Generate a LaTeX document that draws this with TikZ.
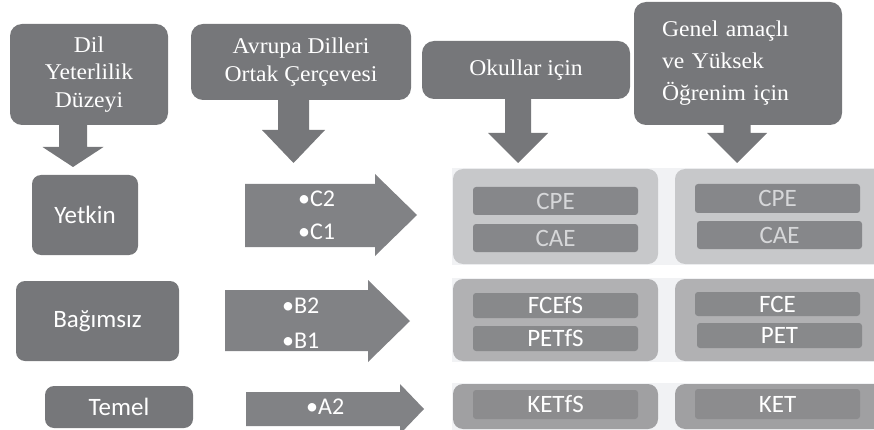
\documentclass[tikz,border=0pt]{standalone}
\usepackage{fontspec}
\setmainfont{Liberation Serif}
\newfontfamily\serifw[FakeStretch=1.05]{Liberation Serif}
\newfontfamily\sansw{Carlito}
\definecolor{boxgray}{HTML}{76777A}
\definecolor{arrgray}{HTML}{818285}
\definecolor{stripbg}{HTML}{F1F2F4}
\definecolor{panelA}{HTML}{C7C8CA}
\definecolor{barA}{HTML}{86878A}
\definecolor{txtA}{HTML}{D6D7D9}
\definecolor{panelB}{HTML}{B1B1B3}
\definecolor{barB}{HTML}{88898B}
\definecolor{panelC}{HTML}{A0A0A2}
\definecolor{barC}{HTML}{8C8C8E}
\tikzset{
  topbox/.style={fill=boxgray, rounded corners=12pt, text=white, align=center, inner sep=0pt,
    font=\serifw\fontsize{22.5}{27.5}\selectfont},
  levelbox/.style={fill=boxgray, rounded corners=9pt, text=white, inner sep=0pt,
    font=\sansw\fontsize{25}{30}\selectfont},
  panelbox/.style={rounded corners=10pt, inner sep=0pt},
  barbox/.style={rounded corners=3pt, inner sep=0pt, font=\sansw\fontsize{25}{30}\selectfont},
  blockarrow/.style={fill=boxgray},
  rightarrow/.style={fill=arrgray},
  bullettext/.style={anchor=base west, inner sep=0pt, text=white, font=\sansw\fontsize{24}{29}\selectfont},
}
\begin{document}
\begin{tikzpicture}[x=1pt,y=-1pt]
\useasboundingbox (0,0) rectangle (874,430);
\clip (0,0) rectangle (874,430);
% header boxes
\node[topbox, minimum width=158pt, minimum height=101pt] (dil) at (89,74.5) {Dil\\Yeterlilik\\Düzeyi};
\node[topbox, minimum width=220pt, minimum height=76pt] (cefr) at (301,62) {Avrupa Dilleri\\Ortak Çerçevesi};
\node[topbox, minimum width=208pt, minimum height=58pt] (okul) at (526,70) {Okullar için};
\node[topbox, minimum width=208pt, minimum height=123pt, text width=152pt, inner xsep=28pt, align=left,
  font=\serifw\fontsize{22.5}{32}\selectfont] (genel) at (738,63.5) {Genel amaçlı\\ve Yüksek\\Öğrenim için};
% down block arrows
\fill[blockarrow] (59,125) -- (87,125) -- (87,147) -- (103.5,147) -- (73,167) -- (42.5,147) -- (59,147) -- cycle;
\fill[blockarrow] (278,100) -- (309,100) -- (309,130) -- (325,130) -- (293.5,163) -- (262,130) -- (278,130) -- cycle;
\fill[blockarrow] (505,99) -- (531,99) -- (531,133) -- (548,133) -- (518,163) -- (488,133) -- (505,133) -- cycle;
\fill[blockarrow] (723.5,125) -- (750.5,125) -- (750.5,133) -- (767,133) -- (737,163) -- (707,133) -- (723.5,133) -- cycle;
% level boxes
\node[levelbox, minimum width=106pt, minimum height=80pt] (yetkin) at (85,215) {Yetkin};
\node[levelbox, minimum width=163pt, minimum height=80pt] (bag) at (97.5,321) {Bağımsız};
\node[levelbox, minimum width=148pt, minimum height=42pt] (temel) at (119,407) {Temel};
% right block arrows
\fill[rightarrow] (245,184) -- (375,184) -- (375,174) -- (417,215) -- (375,256) -- (375,247) -- (245,247) -- cycle;
\fill[rightarrow] (225,290) -- (368,290) -- (368,280) -- (410,321) -- (368,362) -- (368,351) -- (225,351) -- cycle;
\fill[rightarrow] (246,392) -- (400,392) -- (400,384) -- (424,409) -- (400,434) -- (400,426) -- (246,426) -- cycle;
\node[bullettext] (c2) at (298,207) {•C2};
\node[bullettext] (c1) at (298,240) {•C1};
\node[bullettext] (b2) at (282,313) {•B2};
\node[bullettext] (b1) at (282,348) {•B1};
\node[bullettext] (a2) at (306,414) {•A2};
% background strips
\fill[stripbg] (452,168) rectangle (874,265);
\fill[stripbg] (452,278) rectangle (874,362);
\fill[stripbg] (452,383) rectangle (874,430);
% panels
\node[panelbox, fill=panelA, minimum width=205pt, minimum height=95pt] (pa1) at (555.5,216.5) {};
\node[panelbox, fill=panelA, minimum width=209pt, minimum height=95pt] (pa2) at (779.5,216.5) {};
\node[panelbox, fill=panelB, minimum width=205pt, minimum height=82pt] (pb1) at (555.5,320) {};
\node[panelbox, fill=panelB, minimum width=209pt, minimum height=82pt] (pb2) at (779.5,320) {};
\node[panelbox, fill=panelC, minimum width=205pt, minimum height=45pt] (pc1) at (555.5,406.5) {};
\node[panelbox, fill=panelC, minimum width=209pt, minimum height=45pt] (pc2) at (779.5,406.5) {};
% bars
\node[barbox, fill=barA, text=txtA, minimum width=165pt, minimum height=28pt] (cpe1) at (555.5,201) {CPE};
\node[barbox, fill=barA, text=txtA, minimum width=165pt, minimum height=28pt] (cae1) at (555.5,238) {CAE};
\node[barbox, fill=barA, text=txtA, minimum width=165pt, minimum height=29pt] (cpe2) at (777.5,198.5) {CPE};
\node[barbox, fill=barA, text=txtA, minimum width=165pt, minimum height=28pt] (cae2) at (779.5,235) {CAE};
\node[barbox, fill=barB, text=white, minimum width=165pt, minimum height=25pt] (fcefs) at (555.5,305.5) {FCEfS};
\node[barbox, fill=barB, text=white, minimum width=165pt, minimum height=25pt] (petfs) at (555.5,338.5) {PETfS};
\node[barbox, fill=barB, text=white, minimum width=165pt, minimum height=24pt] (fce) at (777.5,304) {FCE};
\node[barbox, fill=barB, text=white, minimum width=165pt, minimum height=25pt] (pet) at (779.5,335.5) {PET};
\node[barbox, fill=barC, text=white, minimum width=165pt, minimum height=29pt] (ketfs) at (555.5,404.5) {KETfS};
\node[barbox, fill=barC, text=white, minimum width=165pt, minimum height=30pt] (ket) at (777.5,404) {KET};
\end{tikzpicture}
\end{document}
